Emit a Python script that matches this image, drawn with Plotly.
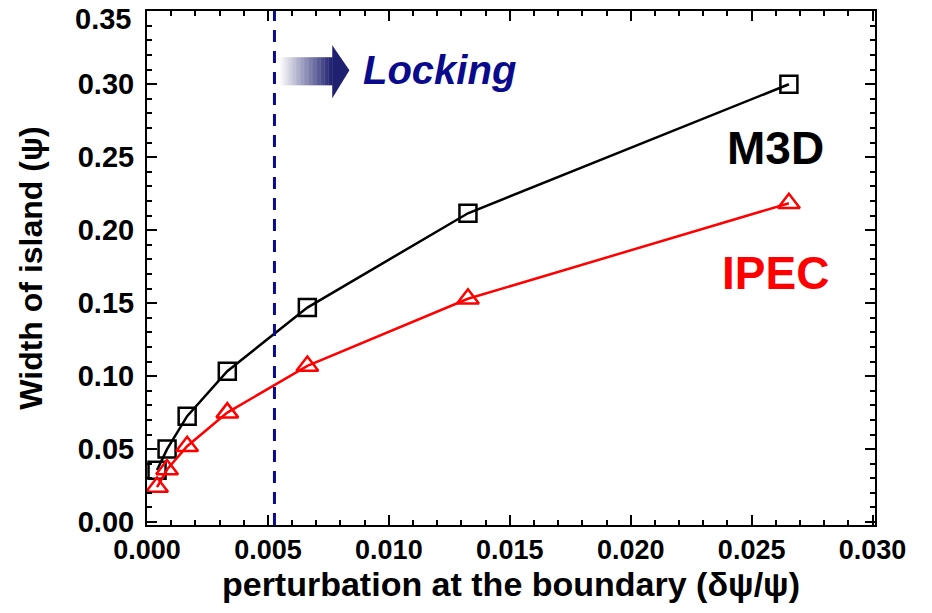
import plotly.graph_objects as go

# Boundary perturbation amplitude (delta psi / psi)
perturbation = [0.000415, 0.00083, 0.00166, 0.00332, 0.00663, 0.01327, 0.02654]
# Island width (psi) from the two codes
m3d_width = [0.0356, 0.050, 0.0726, 0.1034, 0.147, 0.2116, 0.300]
ipec_width = [0.024, 0.036, 0.052, 0.075, 0.107, 0.153, 0.2185]

locking_threshold = 0.00527

x_ticks = [0.000, 0.005, 0.010, 0.015, 0.020, 0.025, 0.030]
x_tick_text = ["0.000", "0.005", "0.010", "0.015", "0.020", "0.025", "0.030"]
y_ticks = [0.00, 0.05, 0.10, 0.15, 0.20, 0.25, 0.30, 0.35]
y_tick_text = ["0.00", "0.05", "0.10", "0.15", "0.20", "0.25", "0.30", "0.35"]

NAVY = "#0a0a8c"
FONT = "Liberation Sans"

fig = go.Figure()

fig.add_trace(go.Scatter(
    x=perturbation, y=m3d_width, mode="lines+markers", name="M3D",
    line=dict(color="black", width=2.5),
    marker=dict(symbol="square-open", size=17, color="black", line=dict(width=2.5)),
    cliponaxis=False,
))
fig.add_trace(go.Scatter(
    x=perturbation, y=ipec_width, mode="lines+markers", name="IPEC",
    line=dict(color="red", width=2.5),
    marker=dict(symbol="triangle-up-open", size=19, color="red", line=dict(width=2.5)),
    cliponaxis=False,
))

# Locking threshold
fig.add_shape(type="line", xref="x", yref="paper",
              x0=locking_threshold, x1=locking_threshold, y0=0, y1=1,
              line=dict(color=NAVY, width=3, dash="12px,9px"))

# Shaded arrow pointing into the locked region
body_x0, body_x1, head_x1 = 0.00548, 0.00766, 0.00837
body_y0, body_y1 = 0.2993, 0.3185
head_y0, head_y1, head_mid = 0.2904, 0.3267, 0.3096
n_strips = 40
dx = (body_x1 - body_x0) / n_strips
for i in range(n_strips):
    t = (i + 0.5) / n_strips
    r = int(255 + (32 - 255) * t)
    g = int(255 + (32 - 255) * t)
    b = int(255 + (112 - 255) * t)
    fig.add_shape(type="rect", xref="x", yref="y",
                  x0=body_x0 + i * dx, x1=body_x0 + (i + 1) * dx + dx * 0.3,
                  y0=body_y0, y1=body_y1,
                  line=dict(width=0), fillcolor=f"rgb({r},{g},{b})", layer="above")
fig.add_shape(type="path", xref="x", yref="y",
              path=f"M {body_x1},{head_y0} L {head_x1},{head_mid} L {body_x1},{head_y1} Z",
              line=dict(width=0), fillcolor="rgb(32,32,112)", layer="above")

fig.add_annotation(x=0.00885, y=0.3096, xref="x", yref="y", xanchor="left", yanchor="middle",
                   text="<b><i>Locking</i></b>", showarrow=False,
                   font=dict(family=FONT, size=40, color=NAVY))
fig.add_annotation(x=0.0260, y=0.2565, xref="x", yref="y", xanchor="center", yanchor="middle",
                   text="<b>M3D</b>", showarrow=False,
                   font=dict(family=FONT, size=46, color="black"))
fig.add_annotation(x=0.0260, y=0.171, xref="x", yref="y", xanchor="center", yanchor="middle",
                   text="<b>IPEC</b>", showarrow=False,
                   font=dict(family=FONT, size=46, color="red"))

# Topmost y label sits on the frame edge; nudge it down so it stays on the page
top_label = y_tick_text[-1]
axis_labels = y_tick_text[:-1] + [""]
fig.add_annotation(x=0, y=y_ticks[-1], xref="paper", yref="y", xanchor="right", yanchor="middle",
                   xshift=-14, yshift=-8, text=f"<b>{top_label}</b>", showarrow=False,
                   font=dict(family=FONT, size=29, color="black"))

fig.update_layout(
    width=932, height=613,
    margin=dict(l=147, r=57, t=11, b=88),
    paper_bgcolor="white", plot_bgcolor="white",
    showlegend=False,
    font=dict(family=FONT, color="black"),
)
fig.update_xaxes(
    range=[0, 0.0301], tickvals=x_ticks, ticktext=x_tick_text,
    ticks="inside", ticklen=10, tickwidth=1.5, tickcolor="black",
    minor=dict(ticks="inside", dtick=0.001, tick0=0, ticklen=5, tickwidth=1.5, tickcolor="black"),
    showline=True, linecolor="black", linewidth=2, mirror="allticks",
    showgrid=False, zeroline=False, ticklabeloverflow="allow", automargin=False,
    tickfont=dict(family=FONT, size=27, color="black", weight="bold"),
    title=dict(text="<b>perturbation at the boundary (δψ/ψ)</b>",
               font=dict(family=FONT, size=34, color="black"), standoff=4),
)
fig.update_yaxes(
    range=[-0.002, 0.3502], tickvals=y_ticks, ticktext=axis_labels,
    ticks="inside", ticklen=10, tickwidth=1.5, tickcolor="black",
    minor=dict(ticks="inside", dtick=0.01, tick0=0, ticklen=5, tickwidth=1.5, tickcolor="black"),
    showline=True, linecolor="black", linewidth=2, mirror="allticks",
    showgrid=False, zeroline=False, ticklabeloverflow="allow", automargin=False,
    ticklabelstandoff=5,
    tickfont=dict(family=FONT, size=29, color="black", weight="bold"),
    title=dict(text="<b>Width of island (ψ)</b>",
               font=dict(family=FONT, size=32, color="black"), standoff=26),
)

fig.write_html("out.html")
